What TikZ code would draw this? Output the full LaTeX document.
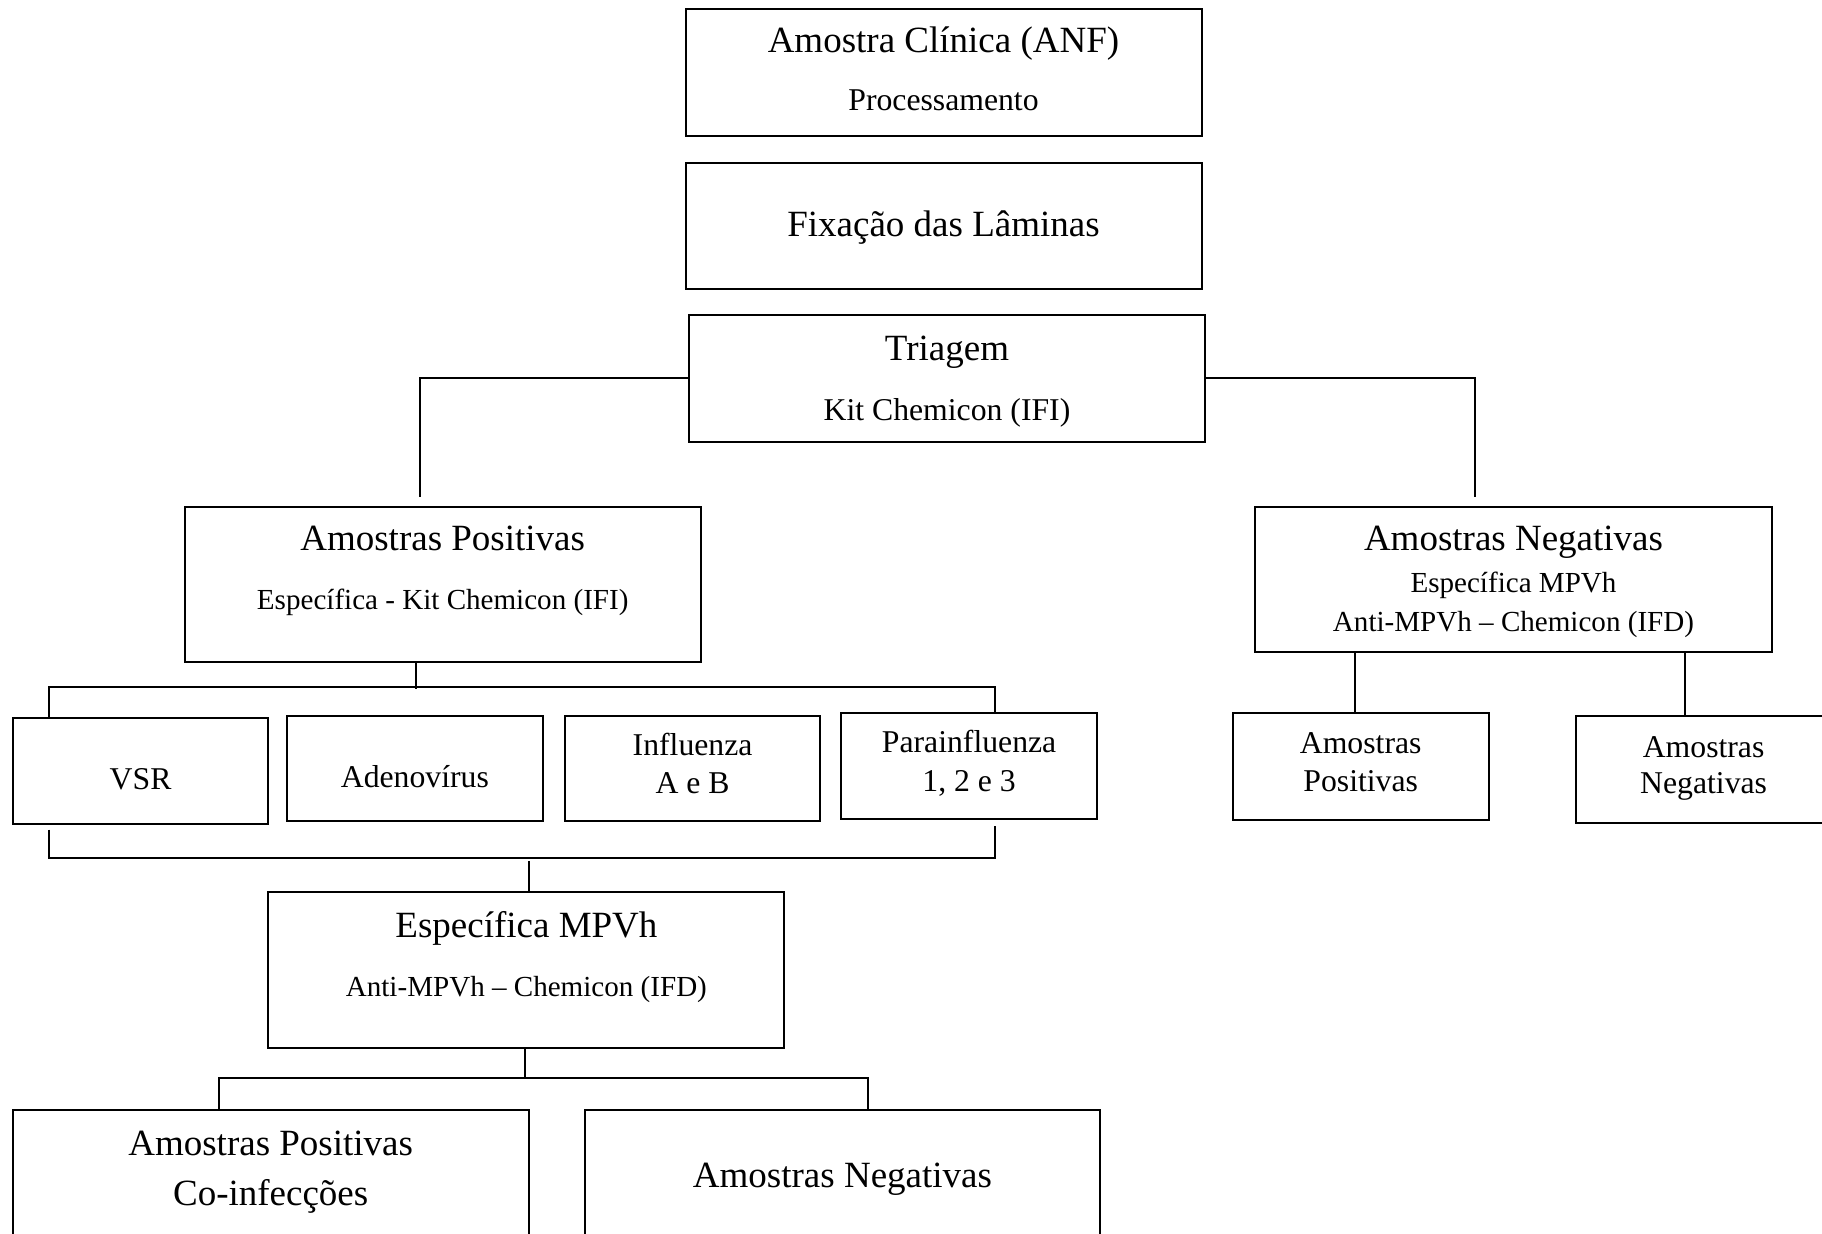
\documentclass[tikz,border=0pt]{standalone}
\usepackage{fontspec}
\setmainfont{Liberation Serif}
\tikzset{
  box/.style={draw, line width=1pt, rectangle, inner sep=0pt, outer sep=0pt},
  big/.style={font=\fontsize{18.5pt}{22pt}\selectfont, inner sep=0pt, anchor=base},
  mid/.style={font=\fontsize{15.86pt}{19pt}\selectfont, inner sep=0pt, anchor=base},
  sml/.style={font=\fontsize{14.54pt}{17pt}\selectfont, inner sep=0pt, anchor=base},
  conn/.style={line width=1pt}
}
\newcommand{\mybox}[5]{\node[box, minimum width={(#4-#2)*0.5pt}, minimum height={(#5-#3)*0.5pt}] (#1) at ({(#2+#4)/2},{(#3+#5)/2}) {};}
\begin{document}
\begin{tikzpicture}[x=0.5pt,y=-0.5pt]
\useasboundingbox (0,0) rectangle (1822,1234);
\clip (0,0) rectangle (1822,1234);
\fill[white] (0,0) rectangle (1822,1234);
% boxes
\mybox{amc}{685.6}{9.3}{1201.5}{136}
\mybox{fix}{685.6}{162.7}{1201.5}{289.3}
\mybox{tri}{689}{314.9}{1205}{441.6}
\mybox{apos}{184.8}{506.6}{700.7}{662.3}
\mybox{aneg}{1255}{506.6}{1772}{651.9}
\mybox{vsr}{12.8}{718.1}{268.4}{823.9}
\mybox{ade}{287}{715.8}{542.7}{821.5}
\mybox{inf}{564.7}{715.8}{820.4}{821.5}
\mybox{par}{841.3}{713.5}{1096.9}{819.2}
\mybox{apos2}{1232.9}{713.5}{1488.5}{820.4}
\mybox{aneg2}{1575.7}{715.8}{1831.5}{822.7}
\mybox{emb}{268.4}{892.4}{784.4}{1048}
\mybox{bpos}{12.8}{1109.7}{528.7}{1300}
\mybox{bneg}{584.5}{1109.7}{1100.4}{1300}
% texts
\node[big] (t1) at (943.5,53) {Amostra Clínica (ANF)};
\node[mid] (t2) at (943.5,111) {Processamento};
\node[big] (t3) at (943.5,237) {Fixação das Lâminas};
\node[big] (t4) at (947,361) {Triagem};
\node[mid] (t5) at (947,421) {Kit Chemicon (IFI)};
\node[big] (t6) at (442.7,550.5) {Amostras Positivas};
\node[sml] (t7) at (442.7,609.5) {Específica - Kit Chemicon (IFI)};
\node[big] (t8) at (1513.5,550.5) {Amostras Negativas};
\node[sml] (t9) at (1513.5,592.8) {Específica MPVh};
\node[sml] (t10) at (1513.5,631.4) {Anti-MPVh – Chemicon (IFD)};
\node[mid] (t11) at (140.6,790) {VSR};
\node[mid] (t12) at (414.9,788) {Adenovírus};
\node[mid] (t13) at (692.6,755.5) {Influenza};
\node[mid] (t14) at (692.6,794) {A e B};
\node[mid] (t15) at (969.1,753) {Parainfluenza};
\node[mid] (t16) at (969.1,791.5) {1, 2 e 3};
\node[mid] (t17) at (1360.7,754) {Amostras};
\node[mid] (t18) at (1360.7,791.5) {Positivas};
\node[mid] (t19) at (1703.6,758) {Amostras};
\node[mid] (t20) at (1703.6,794) {Negativas};
\node[big] (t21) at (526.4,938) {Específica MPVh};
\node[sml] (t22) at (526.4,996.5) {Anti-MPVh – Chemicon (IFD)};
\node[big] (t23) at (270.7,1155.6) {Amostras Positivas};
\node[big] (t24) at (270.7,1205.5) {Co-infecções};
\node[big] (t25) at (842.5,1188) {Amostras Negativas};
% connector points
\coordinate (cL) at (419.5,497.3);
\coordinate (cR) at (1474.6,497.3);
\coordinate (p1) at (416,689);
\coordinate (hL) at (48.8,686.7);
\coordinate (hR) at (994.7,686.7);
\coordinate (qL) at (48.8,829.7);
\coordinate (qR) at (994.7,826);
\coordinate (bL) at (48.8,857.6);
\coordinate (bR) at (994.7,857.6);
\coordinate (m1) at (528.7,861);
\coordinate (e1) at (525.2,1078.3);
\coordinate (eL) at (218.5,1078.3);
\coordinate (eR) at (868,1078.3);
\coordinate (n1) at (1354.9,651.9);
\coordinate (n2) at (1684.9,651.9);
% connectors
\draw[conn] (tri.west |- 0,378) -| (cL);
\draw[conn] (tri.east |- 0,378) -| (cR);
\draw[conn] (apos.south -| p1) -- (p1);
\draw[conn] (vsr.north -| hL) -- (hL) -- (hR) -- (par.north -| hR);
\draw[conn] (qL) -- (bL) -- (bR) -- (qR);
\draw[conn] (m1) -- (emb.north -| m1);
\draw[conn] (emb.south -| e1) -- (e1);
\draw[conn] (bpos.north -| eL) -- (eL) -- (eR) -- (bneg.north -| eR);
\draw[conn] (n1) -- (apos2.north -| n1);
\draw[conn] (n2) -- (aneg2.north -| n2);
\end{tikzpicture}
\end{document}
